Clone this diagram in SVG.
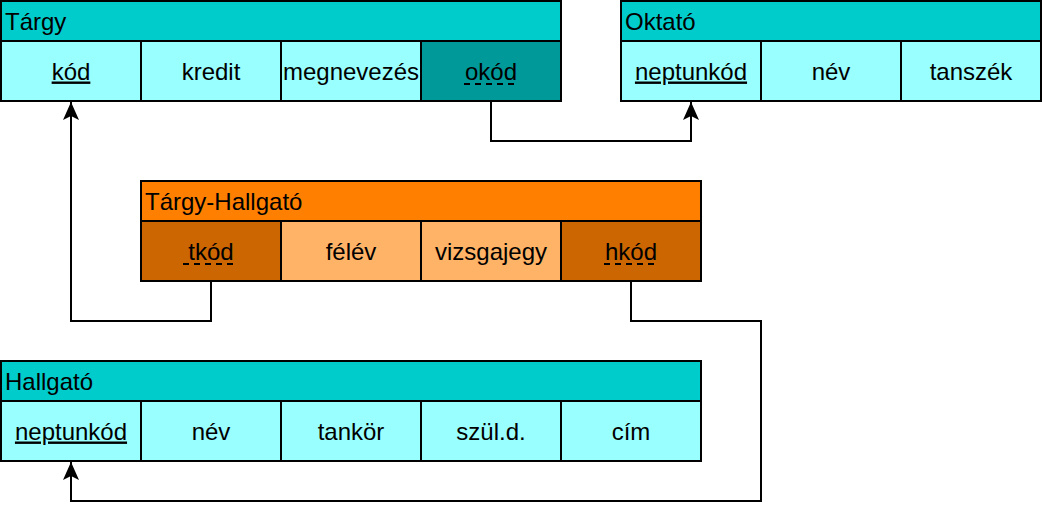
<svg xmlns="http://www.w3.org/2000/svg" width="1042" height="518" viewBox="0 0 1042 518">
<style>
text{font-family:"Liberation Sans",Arial,sans-serif;font-size:24px;fill:#000}
.c{text-anchor:middle}
.hd{fill:#00CCCC;stroke:#000;stroke-width:2}
.cl{fill:#99FFFF;stroke:#000;stroke-width:2}
.fk{fill:#009999;stroke:#000;stroke-width:2}
.ohd{fill:#FF8000;stroke:#000;stroke-width:2}
.ocl{fill:#FFB366;stroke:#000;stroke-width:2}
.ofk{fill:#CC6600;stroke:#000;stroke-width:2}
.du{stroke:#000;stroke-width:2;stroke-dasharray:6 5}
.conn{fill:none;stroke:#000;stroke-width:2}
</style>
<defs>
<marker id="arr" viewBox="0 0 18 16" refX="18" refY="8" markerWidth="18" markerHeight="16" markerUnits="userSpaceOnUse" orient="auto">
<path d="M0,0 L18,8 L0,16 L4,8 Z" fill="#000"/>
</marker>
</defs>
<g id="connectors">
<path class="conn" d="M491,101 V141 H691 V102" marker-end="url(#arr)"/>
<path class="conn" d="M211,281 V321 H71 V102" marker-end="url(#arr)"/>
<path class="conn" d="M631,281 V321 H761 V501 H71 V462" marker-end="url(#arr)"/>
</g>
<g id="targy">
<rect class="hd" x="1" y="1" width="560" height="40"/>
<text x="5" y="29.5">Tárgy</text>
<rect class="cl" x="1" y="41" width="140" height="60"/>
<rect class="cl" x="141" y="41" width="140" height="60"/>
<rect class="cl" x="281" y="41" width="140" height="60"/>
<rect class="fk" x="421" y="41" width="140" height="60"/>
<text class="c" x="71" y="79.5" text-decoration="underline">kód</text>
<text class="c" x="211" y="79.5">kredit</text>
<text class="c" x="351" y="79.5">megnevezés</text>
<text class="c" x="491" y="79.5">okód</text>
<line class="du" x1="464" y1="84" x2="518" y2="84"/>
</g>
<g id="oktato">
<rect class="hd" x="621" y="1" width="420" height="40"/>
<text x="625" y="29.5">Oktató</text>
<rect class="cl" x="621" y="41" width="140" height="60"/>
<rect class="cl" x="761" y="41" width="140" height="60"/>
<rect class="cl" x="901" y="41" width="140" height="60"/>
<text class="c" x="691" y="79.5" text-decoration="underline">neptunkód</text>
<text class="c" x="831" y="79.5">név</text>
<text class="c" x="971" y="79.5">tanszék</text>
</g>
<g id="targy-hallgato">
<rect class="ohd" x="141" y="181" width="560" height="40"/>
<text x="145" y="209.5">Tárgy-Hallgató</text>
<rect class="ofk" x="141" y="221" width="140" height="60"/>
<rect class="ocl" x="281" y="221" width="140" height="60"/>
<rect class="ocl" x="421" y="221" width="140" height="60"/>
<rect class="ofk" x="561" y="221" width="140" height="60"/>
<text class="c" x="211" y="259.5">tkód</text>
<line class="du" x1="183" y1="264" x2="237" y2="264"/>
<text class="c" x="351" y="259.5">félév</text>
<text class="c" x="491" y="259.5">vizsgajegy</text>
<text class="c" x="631" y="259.5">hkód</text>
<line class="du" x1="604" y1="264" x2="658" y2="264"/>
</g>
<g id="hallgato">
<rect class="hd" x="1" y="361" width="700" height="40"/>
<text x="5" y="389.5">Hallgató</text>
<rect class="cl" x="1" y="401" width="140" height="60"/>
<rect class="cl" x="141" y="401" width="140" height="60"/>
<rect class="cl" x="281" y="401" width="140" height="60"/>
<rect class="cl" x="421" y="401" width="140" height="60"/>
<rect class="cl" x="561" y="401" width="140" height="60"/>
<text class="c" x="71" y="439.5" text-decoration="underline">neptunkód</text>
<text class="c" x="211" y="439.5">név</text>
<text class="c" x="351" y="439.5">tankör</text>
<text class="c" x="491" y="439.5">szül.d.</text>
<text class="c" x="631" y="439.5">cím</text>
</g>
</svg>
